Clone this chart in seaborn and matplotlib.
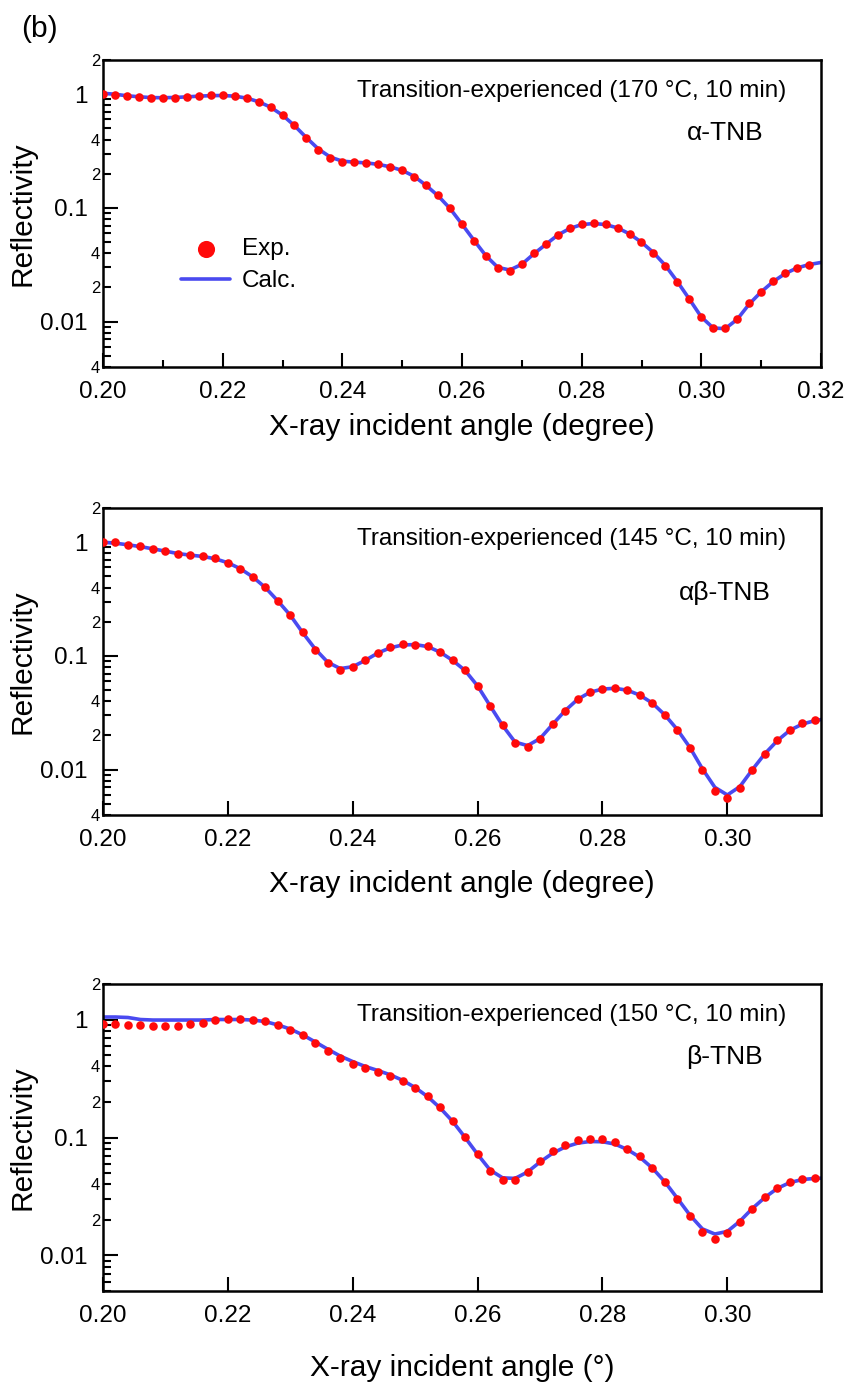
import matplotlib
matplotlib.use("Agg")
import matplotlib.pyplot as plt
import matplotlib.ticker as mticker
import numpy as np
import pandas as pd
import seaborn as sns

# ---------------- data ----------------
angle_a = [0.200, 0.202, 0.204, 0.206, 0.208, 0.210, 0.212, 0.214, 0.216, 0.218,
           0.220, 0.222, 0.224, 0.226, 0.228, 0.230, 0.232, 0.234, 0.236, 0.238,
           0.240, 0.242, 0.244, 0.246, 0.248, 0.250, 0.252, 0.254, 0.256, 0.258,
           0.260, 0.262, 0.264, 0.266, 0.268, 0.270, 0.272, 0.274, 0.276, 0.278,
           0.280, 0.282, 0.284, 0.286, 0.288, 0.290, 0.292, 0.294, 0.296, 0.298,
           0.300, 0.302, 0.304, 0.306, 0.308, 0.310, 0.312, 0.314, 0.316, 0.318]
exp_a = [1.00, 0.99, 0.966, 0.947, 0.930, 0.930, 0.935, 0.947, 0.966, 0.975,
         0.975, 0.966, 0.930, 0.862, 0.772, 0.656, 0.532, 0.410, 0.324, 0.275,
         0.254, 0.254, 0.250, 0.244, 0.229, 0.214, 0.189, 0.159, 0.130, 0.0994,
         0.0717, 0.0517, 0.0377, 0.0299, 0.0282, 0.0324, 0.0400, 0.0480, 0.0581, 0.0661,
         0.0717, 0.0732, 0.0717, 0.0670, 0.0590, 0.0499, 0.0405, 0.0312, 0.0223, 0.0157,
         0.0109, 0.00882, 0.00882, 0.0106, 0.0145, 0.0184, 0.0226, 0.0268, 0.0299, 0.0316]
calc_angle_a = angle_a + [0.320]
calc_a = [1.02, 1.0, 0.97, 0.95, 0.935, 0.932, 0.937, 0.948, 0.962, 0.972,
          0.975, 0.962, 0.925, 0.860, 0.770, 0.655, 0.530, 0.415, 0.330, 0.280,
          0.258, 0.253, 0.249, 0.242, 0.230, 0.214, 0.190, 0.158, 0.128, 0.0990,
          0.0720, 0.0520, 0.0380, 0.0300, 0.0285, 0.0320, 0.0395, 0.0478, 0.0578, 0.0660,
          0.0715, 0.0730, 0.0715, 0.0668, 0.0592, 0.0500, 0.0405, 0.0312, 0.0225, 0.0158,
          0.0110, 0.0088, 0.0087, 0.0105, 0.0143, 0.0183, 0.0225, 0.0265, 0.0297, 0.0318, 0.0332]

angle_b = [0.200, 0.202, 0.204, 0.206, 0.208, 0.210, 0.212, 0.214, 0.216, 0.218,
           0.220, 0.222, 0.224, 0.226, 0.228, 0.230, 0.232, 0.234, 0.236, 0.238,
           0.240, 0.242, 0.244, 0.246, 0.248, 0.250, 0.252, 0.254, 0.256, 0.258,
           0.260, 0.262, 0.264, 0.266, 0.268, 0.270, 0.272, 0.274, 0.276, 0.278,
           0.280, 0.282, 0.284, 0.286, 0.288, 0.290, 0.292, 0.294, 0.296, 0.298,
           0.300, 0.302, 0.304, 0.306, 0.308, 0.310, 0.312, 0.314]
exp_ab = [1.00, 1.00, 0.946, 0.927, 0.872, 0.837, 0.787, 0.771, 0.755, 0.721,
          0.660, 0.587, 0.496, 0.404, 0.307, 0.229, 0.161, 0.114, 0.0870, 0.0759,
          0.0800, 0.0918, 0.107, 0.120, 0.128, 0.126, 0.123, 0.108, 0.0918, 0.0749,
          0.0548, 0.0366, 0.0247, 0.0173, 0.0158, 0.0186, 0.0251, 0.0331, 0.0419, 0.0483,
          0.0512, 0.0524, 0.0500, 0.0451, 0.0385, 0.0302, 0.0225, 0.0156, 0.0100, 0.00652,
          0.00567, 0.00696, 0.0100, 0.0138, 0.0181, 0.0225, 0.0255, 0.0273]
calc_angle_b = angle_b + [0.315]
calc_ab = [1.00, 0.98, 0.950, 0.915, 0.875, 0.835, 0.795, 0.770, 0.750, 0.715,
           0.660, 0.585, 0.495, 0.400, 0.305, 0.228, 0.160, 0.115, 0.0880, 0.0775,
           0.0805, 0.0915, 0.106, 0.118, 0.125, 0.126, 0.121, 0.108, 0.0915, 0.0745,
           0.0545, 0.0365, 0.0245, 0.0175, 0.0163, 0.0188, 0.0250, 0.0330, 0.0415, 0.0480,
           0.0512, 0.0520, 0.0500, 0.0452, 0.0385, 0.0303, 0.0225, 0.0157, 0.0102, 0.0070,
           0.0060, 0.0071, 0.0100, 0.0138, 0.0180, 0.0222, 0.0252, 0.0270, 0.0276]

exp_b = [0.912, 0.912, 0.894, 0.894, 0.876, 0.876, 0.876, 0.912, 0.943, 0.987,
         1.006, 1.006, 0.987, 0.967, 0.906, 0.822, 0.734, 0.636, 0.540, 0.470,
         0.418, 0.386, 0.362, 0.334, 0.302, 0.264, 0.225, 0.181, 0.139, 0.101,
         0.0724, 0.0522, 0.0433, 0.0433, 0.0510, 0.0636, 0.0765, 0.0866, 0.0945, 0.0980,
         0.0980, 0.0910, 0.0806, 0.0694, 0.0554, 0.0421, 0.0303, 0.0215, 0.0157, 0.0138,
         0.0154, 0.0192, 0.0250, 0.0312, 0.0376, 0.0421, 0.0446, 0.0452]
calc_b = [1.05, 1.05, 1.04, 1.00, 0.99, 0.99, 0.99, 0.99, 0.99, 1.00,
          1.00, 1.00, 0.99, 0.96, 0.90, 0.83, 0.74, 0.645, 0.560, 0.490,
          0.440, 0.400, 0.370, 0.340, 0.305, 0.265, 0.222, 0.178, 0.137, 0.100,
          0.0720, 0.0530, 0.0455, 0.0450, 0.0510, 0.0620, 0.0735, 0.0830, 0.0895, 0.0925,
          0.0920, 0.0880, 0.0790, 0.0680, 0.0550, 0.0420, 0.0305, 0.0220, 0.0168, 0.0152,
          0.0160, 0.0195, 0.0250, 0.0310, 0.0370, 0.0415, 0.0440, 0.0450, 0.0452]

condition_labels = ["Transition-experienced (170 °C, 10 min)",
                    "Transition-experienced (145 °C, 10 min)",
                    "Transition-experienced (150 °C, 10 min)"]
phase_labels = ["α-TNB", "αβ-TNB", "β-TNB"]
xlabels = ["X-ray incident angle (degree)", "X-ray incident angle (degree)",
           "X-ray incident angle (°)"]
ylabel = "Reflectivity"
legend_labels = ["Exp.", "Calc."]

# ---------------- style ----------------
sns.set_style("ticks")
plt.rcParams["font.family"] = ["Liberation Sans", "DejaVu Sans"]
for key in ["text.color", "axes.labelcolor", "xtick.color", "ytick.color",
            "xtick.labelcolor", "ytick.labelcolor", "axes.edgecolor"]:
    plt.rcParams[key] = "black"

RED = "#ff0a0a"
BLUE = "#4a4af0"

fig = plt.figure(figsize=(8.49, 13.92), dpi=100)
left, width, height = 103 / 849, 718 / 849, 307 / 1392
bottoms = [1 - 367 / 1392, 1 - 815 / 1392, 1 - 1291 / 1392]

panels = [
    dict(xe=angle_a, ye=exp_a, xc=calc_angle_a, yc=calc_a, xlim=(0.20, 0.32),
         ylim=(0.004, 2), xmajor=[0.20, 0.22, 0.24, 0.26, 0.28, 0.30, 0.32], xminor=True,
         legend=True, ph_y=0.762, xl_y=-0.15),
    dict(xe=angle_b, ye=exp_ab, xc=calc_angle_b, yc=calc_ab, xlim=(0.20, 0.315),
         ylim=(0.004, 2), xmajor=[0.20, 0.22, 0.24, 0.26, 0.28, 0.30], xminor=False,
         legend=False, ph_y=0.723, xl_y=-0.178),
    dict(xe=angle_b, ye=exp_b, xc=calc_angle_b, yc=calc_b, xlim=(0.20, 0.315),
         ylim=(0.005, 2), xmajor=[0.20, 0.22, 0.24, 0.26, 0.28, 0.30], xminor=False,
         legend=False, ph_y=0.762, xl_y=-0.205),
]


def minor_fmt(v, pos):
    if v <= 0:
        return ""
    m = v / 10 ** np.floor(np.log10(v) + 1e-9)
    if abs(m - 2) < 0.05:
        return "2"
    if abs(m - 4) < 0.05:
        return "4"
    return ""


for i, p in enumerate(panels):
    ax = fig.add_axes([left, bottoms[i], width, height])
    dfc = pd.DataFrame({"angle": p["xc"], "R": p["yc"]})
    dfe = pd.DataFrame({"angle": p["xe"], "R": p["ye"]})
    sns.lineplot(data=dfc, x="angle", y="R", ax=ax, color=BLUE, linewidth=2.6,
                 estimator=None, sort=True, label=legend_labels[1] if p["legend"] else None,
                 legend=False, zorder=2)
    sns.scatterplot(data=dfe, x="angle", y="R", ax=ax, color=RED, s=38, linewidth=0,
                    label=legend_labels[0] if p["legend"] else None, legend=False, zorder=3)
    ax.set_yscale("log")
    ax.set_xlim(*p["xlim"])
    ax.set_ylim(*p["ylim"])

    ax.yaxis.set_major_locator(mticker.FixedLocator([0.01, 0.1, 1]))
    ax.yaxis.set_major_formatter(mticker.FixedFormatter(["0.01", "0.1", "1"]))
    ax.yaxis.set_minor_locator(mticker.LogLocator(base=10, subs=np.arange(2, 10), numticks=20))
    ax.yaxis.set_minor_formatter(mticker.FuncFormatter(minor_fmt))

    ax.xaxis.set_major_locator(mticker.FixedLocator(p["xmajor"]))
    ax.xaxis.set_major_formatter(mticker.FormatStrFormatter("%.2f"))
    if p["xminor"]:
        ax.xaxis.set_minor_locator(mticker.MultipleLocator(0.01))
    else:
        ax.xaxis.set_minor_locator(mticker.NullLocator())

    ax.tick_params(axis="both", which="both", direction="in", top=False, right=False,
                   width=1.5, color="black", labelcolor="black")
    ax.tick_params(axis="y", which="major", length=11, labelsize=17.5, pad=11)
    ax.tick_params(axis="y", which="minor", length=6, labelsize=12, pad=2)
    ax.tick_params(axis="x", which="major", length=10, labelsize=17.5, pad=10)
    ax.tick_params(axis="x", which="minor", length=5)
    for s in ax.spines.values():
        s.set_linewidth(1.8)
        s.set_color("black")
        s.set_visible(True)

    ax.set_xlabel(xlabels[i], fontsize=21.5, color="black")
    ax.xaxis.set_label_coords(0.5, p["xl_y"])
    ax.set_ylabel(ylabel, fontsize=21.5, color="black")
    ax.yaxis.set_label_coords(-0.092, 0.5)

    ax.text(0.653, 0.90, condition_labels[i], transform=ax.transAxes, ha="center",
            va="center", fontsize=17.5, color="black")
    ax.text(0.866, p["ph_y"], phase_labels[i], transform=ax.transAxes, ha="center",
            va="center", fontsize=19, color="black")

    if p["legend"]:
        handles, labels = ax.get_legend_handles_labels()
        order = [labels.index(legend_labels[0]), labels.index(legend_labels[1])]
        ax.legend([handles[k] for k in order], [labels[k] for k in order],
                  loc="upper left", bbox_to_anchor=(0.109, 0.42), frameon=False,
                  fontsize=17.5, markerscale=2.0, handlelength=2.0, handletextpad=0.5,
                  labelspacing=0.42, borderpad=0, borderaxespad=0)

fig.text(0.047, 0.979, "(b)", fontsize=21.5, ha="center", va="center", color="black")

fig.savefig("out.png", dpi=100)
